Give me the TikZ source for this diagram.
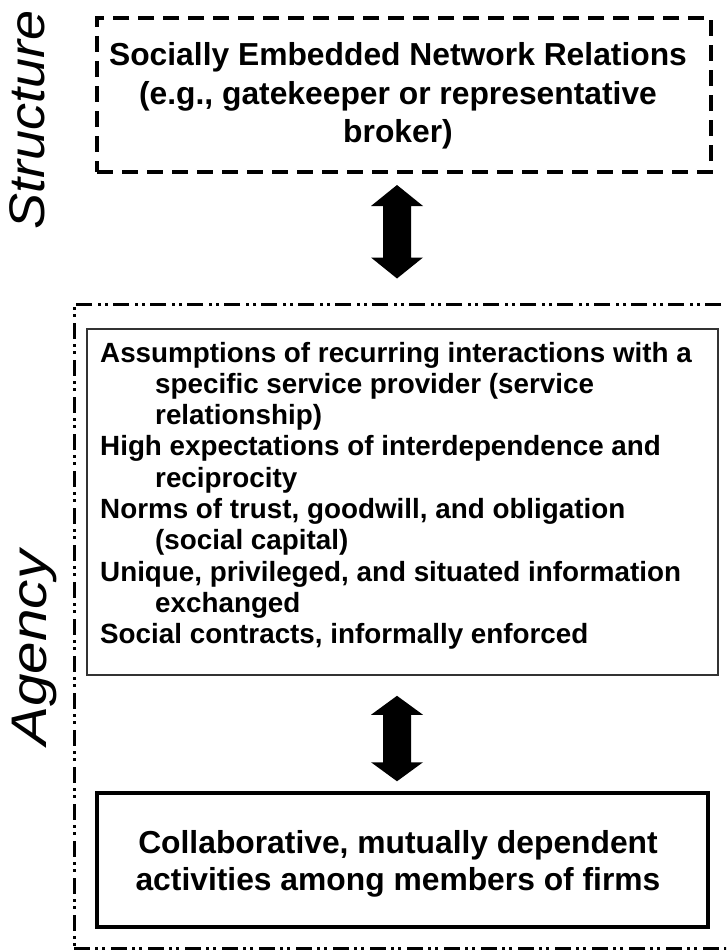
\documentclass[tikz,border=0pt]{standalone}
\usepackage{fontspec}
\setmainfont{Liberation Sans}
\usetikzlibrary{calc}
\newcommand{\fatarrow}[3]{% start, end, head length
  \fill (#1) -- ++(26,#3) -- ++(-12,0) -- ($(#2)+(14,-#3)$) -- ++(12,0) -- (#2)
    -- ++(-26,-#3) -- ++(12,0) -- ($(#1)+(-14,#3)$) -- ++(-12,0) -- cycle;}
\begin{document}
\begin{tikzpicture}[x=1pt,y=-1pt,
  boxtxt/.style={font=\fontsize{31.8}{38}\selectfont\bfseries, inner sep=0pt, anchor=base},
  listtxt/.style={font=\fontsize{27.8}{31}\selectfont\bfseries, inner sep=0pt, anchor=base west},
  sidelabel/.style={font=\fontsize{50}{56}\selectfont\itshape, inner sep=0pt, rotate=90, anchor=base west},
  plainbox/.style={draw, inner sep=0pt},
]
\useasboundingbox (0,0) rectangle (726,950);
\clip (0,0) rectangle (726,950);
\fill[white] (0,0) rectangle (726,950);

% structure box
\node[plainbox, line width=4pt, dash pattern=on 16pt off 9pt, minimum width=614pt, minimum height=154pt] (topbox) at (404,95) {};
\node[boxtxt] (t1) at (398,66) {Socially Embedded Network Relations};
\node[boxtxt] (t2) at (398,104) {(e.g., gatekeeper or representative};
\node[boxtxt] (t3) at (398,142) {broker)};

% agency outer box
\node[plainbox, line width=3pt, dash pattern=on 16pt off 5pt on 3pt off 4pt on 3pt off 6pt, minimum width=686pt, minimum height=644pt] (agencybox) at (417,626) {};

% list box
\node[plainbox, draw=black!80, line width=1.6pt, minimum width=631pt, minimum height=346pt] (listbox) at (402.5,502) {};
\node[listtxt] (l1) at (100,362) {Assumptions of recurring interactions with a};
\node[listtxt] (l2) at (155,393.3) {specific service provider (service};
\node[listtxt] (l3) at (155,424.6) {relationship)};
\node[listtxt] (l4) at (100,455.9) {High expectations of interdependence and};
\node[listtxt] (l5) at (155,487.2) {reciprocity};
\node[listtxt] (l6) at (100,518.5) {Norms of trust, goodwill, and obligation};
\node[listtxt] (l7) at (155,549.8) {(social capital)};
\node[listtxt] (l8) at (100,581.1) {Unique, privileged, and situated information};
\node[listtxt] (l9) at (155,612.4) {exchanged};
\node[listtxt] (l10) at (100,643.7) {Social contracts, informally enforced};

% bottom box
\node[plainbox, line width=3.5pt, minimum width=611pt, minimum height=134pt] (botbox) at (402.5,860) {};
\node[boxtxt] (b1) at (398,853) {Collaborative, mutually dependent};
\node[boxtxt] (b2) at (398,890) {activities among members of firms};

% side labels
\node[sidelabel] (structure) at (44,230) {\scalebox{1.08}[1]{Structure}};
\node[sidelabel] (agency) at (46,746) {\scalebox{1.17}[1]{Agency}};

% arrows
\coordinate (acol) at (397,0);
\coordinate (a1s) at ($(topbox.south -| acol)+(0,11)$);
\coordinate (a1e) at ($(agencybox.north -| acol)+(0,-24)$);
\fatarrow{a1s}{a1e}{21}
\coordinate (a2s) at ($(listbox.south -| acol)+(0,20)$);
\coordinate (a2e) at ($(botbox.north -| acol)+(0,-10)$);
\fatarrow{a2s}{a2e}{19}
\end{tikzpicture}
\end{document}
